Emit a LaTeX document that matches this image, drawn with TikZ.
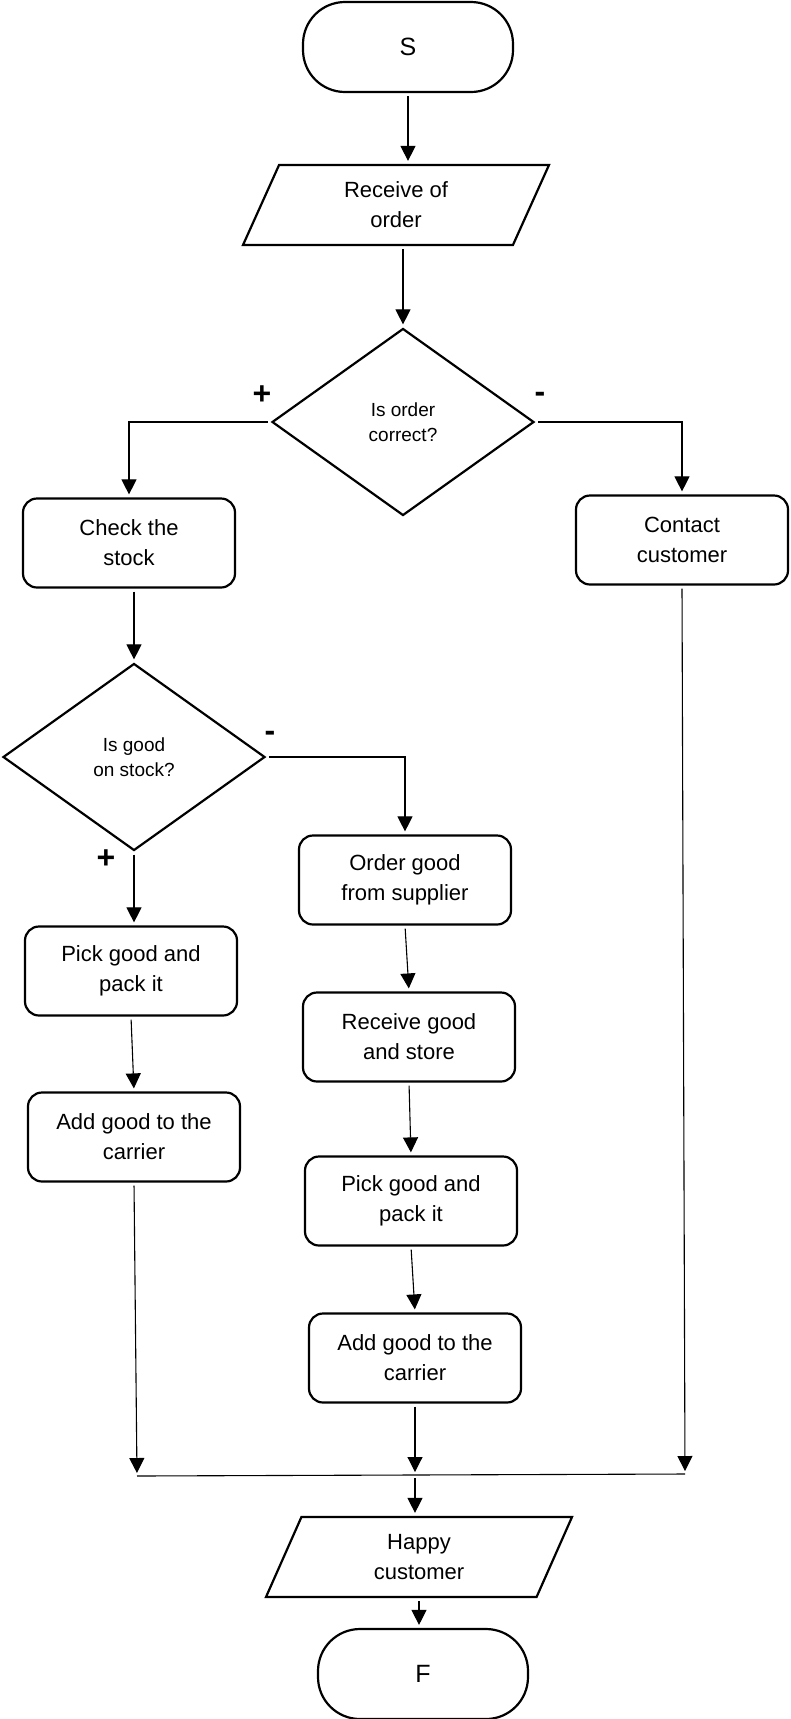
\documentclass[tikz,border=0pt]{standalone}
\usepackage{fontspec}
\setmainfont{Liberation Sans}
\usetikzlibrary{shapes.geometric,arrows.meta}
\newcommand\txtfs{\fontsize{22}{30}\selectfont}
\newcommand\decfs{\fontsize{19}{25.5}\selectfont}
\newcommand\sgnfs{\fontsize{32}{32}\bfseries\selectfont}

\begin{document}
\begin{tikzpicture}[x=1pt,y=-1pt,color=black,
  box/.style={draw,rounded corners=14pt,line width=2.2pt,minimum width=212pt,minimum height=89pt,align=center,font=\txtfs,inner sep=0pt},
  term/.style={draw,rounded corners=42pt,line width=2.2pt,minimum width=210pt,minimum height=90pt,font=\fontsize{25}{30}\selectfont},
  io/.style={draw,trapezium,trapezium left angle=52,trapezium right angle=128,trapezium stretches body,line width=2.2pt,minimum width=306pt,minimum height=80pt,align=center,font=\txtfs,inner sep=0pt},
  dec/.style={draw,diamond,line width=2.2pt,minimum width=262pt,minimum height=187pt,align=center,font=\decfs,inner sep=0pt},
  arr/.style={-{Triangle[length=15pt,width=15pt]},line width=1.1pt,shorten <=3pt,shorten >=3pt},
  ln/.style={line width=1.1pt},
  sgn/.style={font=\sgnfs}]
\useasboundingbox (0,0) rectangle (790,1719);
\node[term] (S) at (408,47) {S};
\node[io] (recv) at (396,205) {Receive of\\order};
\node[dec] (ord) at (403,422) {Is order\\correct?};
\node[dec] (stk) at (134,757) {Is good\\on stock?};
\foreach \n/\x/\y/\t in {chk/129/543/{Check the\\stock},cnt/682/540/{Contact\\customer},
  sup/405/880/{Order good\\from supplier},store/409/1037/{Receive good\\and store},
  pickL/131/971/{Pick good and\\pack it},addL/134/1137/{Add good to the\\carrier},
  pickM/411/1201/{Pick good and\\pack it},addM/415/1358/{Add good to the\\carrier}} {
	\node[box] (\n) at (\x,\y) {\t};
}
\node[io] (happy) at (419,1557) {Happy\\customer};
\node[term] (F) at (423,1674) {F};
\node[sgn] (p1) at (262,395) {+};
\node[sgn] (m1) at (540,397) {-};
\node[sgn] (m2) at (270,736) {-};
\node[sgn] (p2) at (106,859) {+};
\coordinate (mL) at (137,1476);
\coordinate (mR) at (685,1474);
\coordinate (mM) at (415,1475);
\draw[arr] (S.south) -- (S.south |- recv.north);
\draw[arr] (ord.north |- recv.south) -- (ord.north);
\draw[arr] (ord.west) -| (chk.north);
\draw[arr] (ord.east) -| (cnt.north);
\draw[arr] (stk.north |- chk.south) -- (stk.north);
\draw[arr] (stk.east) -| (sup.north);
\draw[arr] (stk.south) -- (stk.south |- pickL.north);
\draw[arr] (pickL.south) -- (addL.north);
\draw[arr] (sup.south) -- (store.north);
\draw[arr] (store.south) -- (pickM.north);
\draw[arr] (pickM.south) -- (addM.north);
\draw[arr] (addL.south) -- (mL);
\draw[arr] (addM.south) -- (mM);
\draw[arr] (cnt.south) -- (mR);
\draw[ln] (mL) -- (mR);
\draw[arr] (mM) -- (mM |- happy.north);
\draw[arr] (happy.south) -- (happy.south |- F.north);
\end{tikzpicture}
\end{document}
